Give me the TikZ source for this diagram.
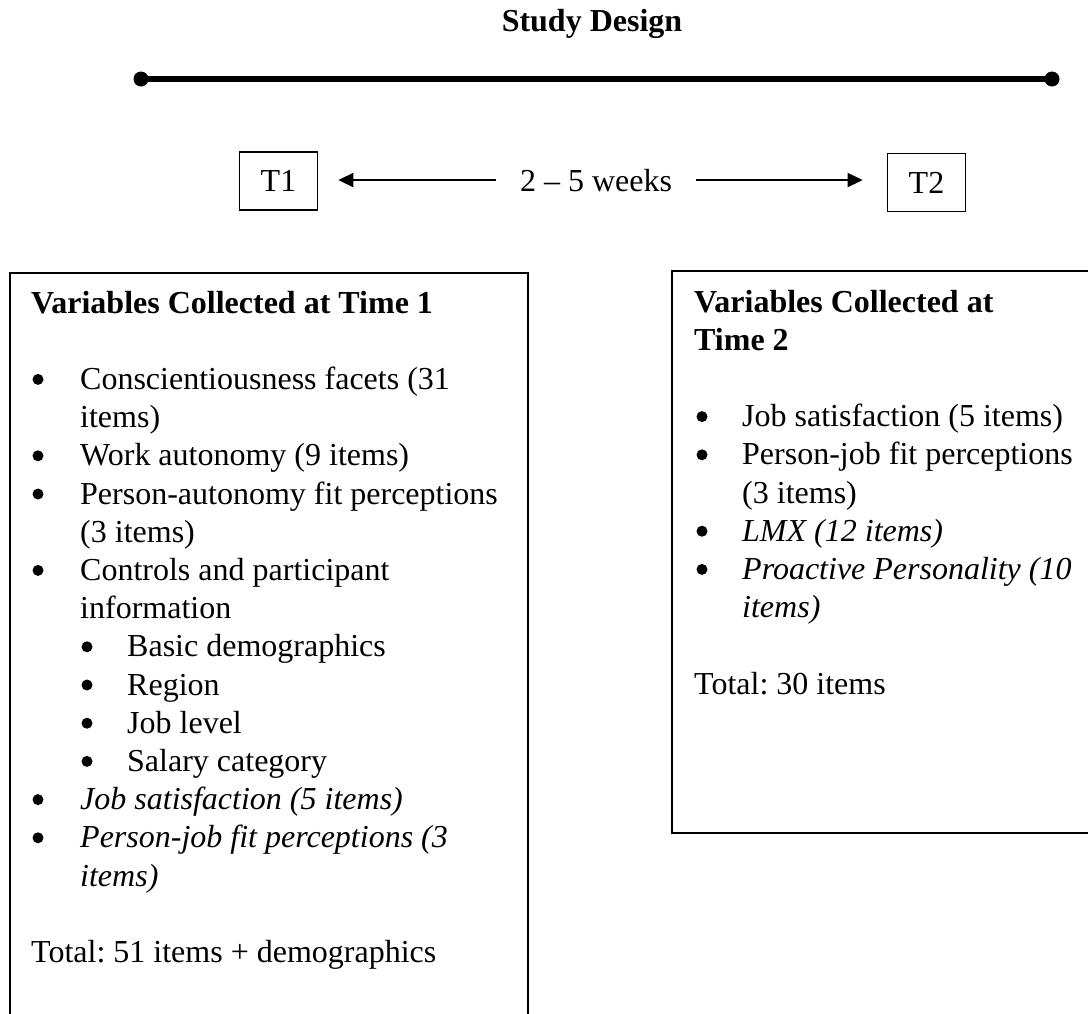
\documentclass[tikz,border=0pt]{standalone}
\usepackage{fontspec}
\setmainfont{Liberation Serif}
\usetikzlibrary{arrows.meta}
\frenchspacing

\newcommand\bodyfont{\fontsize{32}{38}\selectfont}

\tikzset{
  body/.style={font=\bodyfont, anchor=base west, inner sep=0pt},
  head/.style={font=\bodyfont\bfseries, anchor=base west, inner sep=0pt},
  ital/.style={font=\bodyfont\itshape, anchor=base west, inner sep=0pt},
  dotb/.style={circle, fill=black, inner sep=0pt, minimum size=11pt},
  tbox/.style={draw, line width=1.6pt, minimum width=78pt, minimum height=58pt,
               inner sep=0pt, font=\bodyfont},
  frame/.style={line width=2pt},
  arr/.style={line width=1.8pt, -{Triangle[length=15pt,width=14pt]}},
  timeline/.style={line width=5.5pt},
}

\begin{document}
\begin{tikzpicture}[x=1pt,y=-1pt]
  \useasboundingbox (0,0) rectangle (1088,1013);
  \fill[white] (0,0) rectangle (1088,1013);

  % title and time line
  \node[font=\bodyfont\bfseries, anchor=base, inner sep=0pt] (title) at (592,31) {Study Design};
  \coordinate (tlA) at (141,79);
  \coordinate (tlB) at (1052,79);
  \draw[timeline] (tlA) -- (tlB);
  \fill (tlA) circle (7.5);
  \fill (tlB) circle (7.5);

  % measurement points
  \node[tbox] (T1) at (278.5,181) {T1};
  \node[tbox] (T2) at (926.5,182.5) {T2};
  \node[font=\bodyfont, anchor=base, inner sep=0pt] (weeks) at (596,191) {2 – 5 weeks};
  \draw[arr, shorten <=24pt, shorten >=20pt] (weeks.west) -- (weeks.west -| T1.east);
  \draw[arr, shorten <=24pt, shorten >=24pt] (weeks.east) -- (weeks.east -| T2.west);

  % Time 1 panel
  \draw[frame] (10,1030) |- (528,273) -- (528,1030);
  \node[head] (h1) at (31,313) {Variables Collected at Time 1};

  \node[dotb] (a1) at (38,{313+2*38.2-10}) {};
  \node[body] (t1a) at (80,{313+2*38.2}) {Conscientiousness facets (31};
  \node[body] (t1b) at (80,{313+3*38.2}) {items)};
  \node[dotb] (a2) at (38,{313+4*38.2-10}) {};
  \node[body] (t2a) at (80,{313+4*38.2}) {Work autonomy (9 items)};
  \node[dotb] (a3) at (38,{313+5*38.2-10}) {};
  \node[body] (t3a) at (80,{313+5*38.2}) {Person-autonomy fit perceptions};
  \node[body] (t3b) at (80,{313+6*38.2}) {(3 items)};
  \node[dotb] (a4) at (38,{313+7*38.2-10}) {};
  \node[body] (t4a) at (80,{313+7*38.2}) {Controls and participant};
  \node[body] (t4b) at (80,{313+8*38.2}) {information};
  \node[dotb] (s1) at (87,{313+9*38.2-10}) {};
  \node[body] (u1) at (127,{313+9*38.2}) {Basic demographics};
  \node[dotb] (s2) at (87,{313+10*38.2-10}) {};
  \node[body] (u2) at (127,{313+10*38.2}) {Region};
  \node[dotb] (s3) at (87,{313+11*38.2-10}) {};
  \node[body] (u3) at (127,{313+11*38.2}) {Job level};
  \node[dotb] (s4) at (87,{313+12*38.2-10}) {};
  \node[body] (u4) at (127,{313+12*38.2}) {Salary category};
  \node[dotb] (a5) at (38,{313+13*38.2-10}) {};
  \node[ital] (t5a) at (80,{313+13*38.2}) {Job satisfaction (5 items)};
  \node[dotb] (a6) at (38,{313+14*38.2-10}) {};
  \node[ital] (t6a) at (80,{313+14*38.2}) {Person-job fit perceptions (3};
  \node[ital] (t6b) at (80,{313+15*38.2}) {items)};
  \node[body] (tot1) at (31,{313+17*38.2}) {Total: 51 items + demographics};

  % Time 2 panel
  \draw[frame] (1100,271) -| (672,833) -- (1100,833);
  \node[head] (h2a) at (694,312) {Variables Collected at};
  \node[head] (h2b) at (694,{312+38.2}) {Time 2};

  \node[dotb] (c1) at (702,{312+3*38.2-10}) {};
  \node[body] (r1a) at (742,{312+3*38.2}) {Job satisfaction (5 items)};
  \node[dotb] (c2) at (702,{312+4*38.2-10}) {};
  \node[body] (r2a) at (742,{312+4*38.2}) {Person-job fit perceptions};
  \node[body] (r2b) at (742,{312+5*38.2}) {(3 items)};
  \node[dotb] (c3) at (702,{312+6*38.2-10}) {};
  \node[ital] (r3a) at (742,{312+6*38.2}) {LMX (12 items)};
  \node[dotb] (c4) at (702,{312+7*38.2-10}) {};
  \node[ital] (r4a) at (742,{312+7*38.2}) {Proactive Personality (10};
  \node[ital] (r4b) at (742,{312+8*38.2}) {items)};
  \node[body] (tot2) at (694,{312+10*38.2}) {Total: 30 items};
\end{tikzpicture}
\end{document}
